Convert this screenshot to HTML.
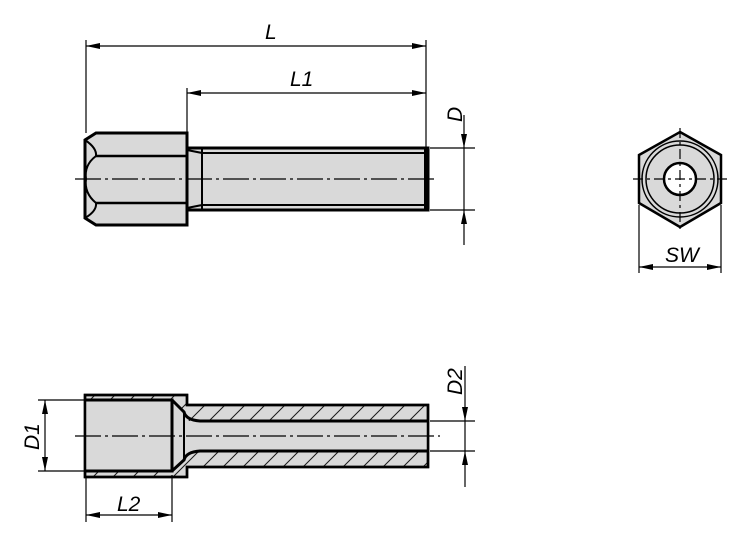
<!DOCTYPE html>
<html><head><meta charset="utf-8"><style>html,body{margin:0;padding:0;background:#fff}svg{display:block}text{font-family:"Liberation Sans",sans-serif;font-style:italic;font-size:21px;fill:#000}</style></head><body>
<svg width="750" height="548" viewBox="0 0 750 548" xmlns="http://www.w3.org/2000/svg">
<defs>
<marker id="a" viewBox="0 0 14 6" refX="14" refY="3" markerWidth="14" markerHeight="6" markerUnits="userSpaceOnUse" orient="auto-start-reverse"><path d="M0,0L14,3L0,6z" fill="#000"/></marker>
<pattern id="h" width="20" height="20" patternUnits="userSpaceOnUse" patternTransform="skewX(-45)"><rect width="20" height="20" fill="#d9d9d9"/><line x1="10" y1="0" x2="10" y2="20" stroke="#000" stroke-width="1.3"/></pattern>
</defs>
<g stroke="#000" fill="none">
<path d="M96,133H187V225H96L85,218V140Z" fill="#d9d9d9" stroke-width="3"/>
<path d="M187,148H428V210H187Z" fill="#d9d9d9" stroke-width="3"/>
<path d="M96,156H187M96,203H187" stroke-width="2.5"/>
<path d="M85,140Q97,148 96,156Q84,165 86,179Q84,193 96,203Q97,211 85,218" stroke-width="2"/>
<path d="M187,150L202,153V205L187,208M202,148V210M202,153H426M202,205H426" stroke-width="2"/>
<path d="M426,148V210" stroke-width="4"/>
<path d="M75,179H438" stroke-width="1.2" stroke-dasharray="26,4,3,4"/>
<g stroke-width="1.2">
<path d="M86,40V133M187,88V148M426,40V148"/>
<path d="M86,46H426" marker-start="url(#a)" marker-end="url(#a)"/>
<path d="M187,93H426" marker-start="url(#a)" marker-end="url(#a)"/>
<path d="M430,148H475M430,210H475"/>
<path d="M464,115V148" marker-end="url(#a)"/>
<path d="M464,245V210" marker-end="url(#a)"/>
<path d="M464,148V210"/>
</g>
<path d="M680,132L721,155V203L680,227L639,203V155Z" fill="#d9d9d9" stroke-width="2.5"/>
<circle cx="680" cy="179" r="38" stroke-width="1.5"/>
<circle cx="680" cy="179" r="34" stroke-width="1.5"/>
<circle cx="680" cy="179" r="16" fill="#fff" stroke-width="2.5"/>
<path d="M633,179H731M680,128V232" stroke-width="1.2" stroke-dasharray="10,4,3,4"/>
<g stroke-width="1.2">
<path d="M639,205V273M721,205V273"/>
<path d="M639,267H721" marker-start="url(#a)" marker-end="url(#a)"/>
</g>
<path d="M85,395H187V405H428V467H187V477H85Z" fill="url(#h)" stroke-width="2.5"/>
<path d="M85,400H172L184,412V421H428V451H184V460L172,471H85Z" fill="#d9d9d9" stroke="none"/>
<path d="M85,400H172V471H85M172,400L184,412Q186,420 200,421H428M172,471L184,460Q186,452 200,451H428" stroke-width="3"/>
<path d="M184,412V460" stroke-width="2"/>
<path d="M85,395H187V405H428V467H187V477H85Z" stroke-width="2.5"/>
<path d="M75,436H440" stroke-width="1.2" stroke-dasharray="26,4,3,4"/>
<g stroke-width="1.2">
<path d="M38,400H86M38,471H86"/>
<path d="M45,400V471" marker-start="url(#a)" marker-end="url(#a)"/>
<path d="M86,477V522M172,475V522"/>
<path d="M86,515H172" marker-start="url(#a)" marker-end="url(#a)"/>
<path d="M430,421H475M430,451H475"/>
<path d="M465,366V421" marker-end="url(#a)"/>
<path d="M465,487V451" marker-end="url(#a)"/>
<path d="M465,421V451"/>
</g>
</g>
<text x="265" y="39">L</text>
<text x="290" y="86">L1</text>
<text transform="translate(462,122) rotate(-90)">D</text>
<text x="665" y="262">SW</text>
<text x="117" y="511">L2</text>
<text transform="translate(39,450) rotate(-90)">D1</text>
<text transform="translate(462,395) rotate(-90)">D2</text>
</svg>
</body></html>
